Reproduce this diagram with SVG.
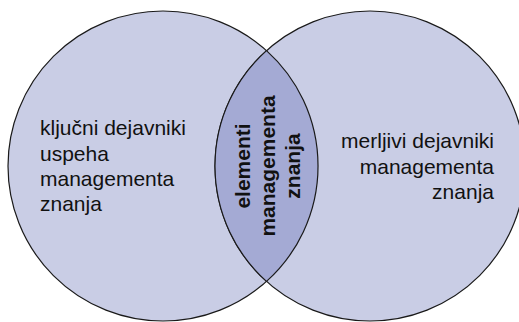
<svg xmlns="http://www.w3.org/2000/svg" width="519" height="322" viewBox="0 0 519 322">
  <style>
    .set { fill: #c9cde5; stroke: #1a1a1a; stroke-width: 1.2; }
    .lens { fill: #a4aad4; stroke: #1a1a1a; stroke-width: 1.2; }
    .lbl { font-family: "Liberation Sans", Arial, sans-serif; font-size: 21px; fill: #111111; }
    .core { font-weight: bold; text-anchor: middle; }
  </style>
  <rect width="519" height="322" fill="#ffffff"/>
  <g id="left-set">
    <circle class="set" cx="163" cy="166" r="155"/>
  </g>
  <g id="right-set">
    <circle class="set" cx="370" cy="166" r="155"/>
  </g>
  <g id="overlap">
    <path class="lens" d="M 266.5 50.6 A 155 155 0 0 1 266.5 281.4 A 155 155 0 0 1 266.5 50.6 Z"/>
  </g>
  <g id="left-label">
    <text class="lbl" x="40" y="135">ključni dejavniki</text>
    <text class="lbl" x="40" y="160.5">uspeha</text>
    <text class="lbl" x="40" y="186">managementa</text>
    <text class="lbl" x="40" y="211">znanja</text>
  </g>
  <g id="right-label">
    <text class="lbl" x="494" y="148" text-anchor="end">merljivi dejavniki</text>
    <text class="lbl" x="494" y="173.5" text-anchor="end">managementa</text>
    <text class="lbl" x="494" y="199" text-anchor="end">znanja</text>
  </g>
  <g id="overlap-label" transform="translate(267 166) rotate(-90)">
    <text class="lbl core" x="0" y="-17">elementi</text>
    <text class="lbl core" x="0" y="8">managementa</text>
    <text class="lbl core" x="0" y="33">znanja</text>
  </g>
</svg>
